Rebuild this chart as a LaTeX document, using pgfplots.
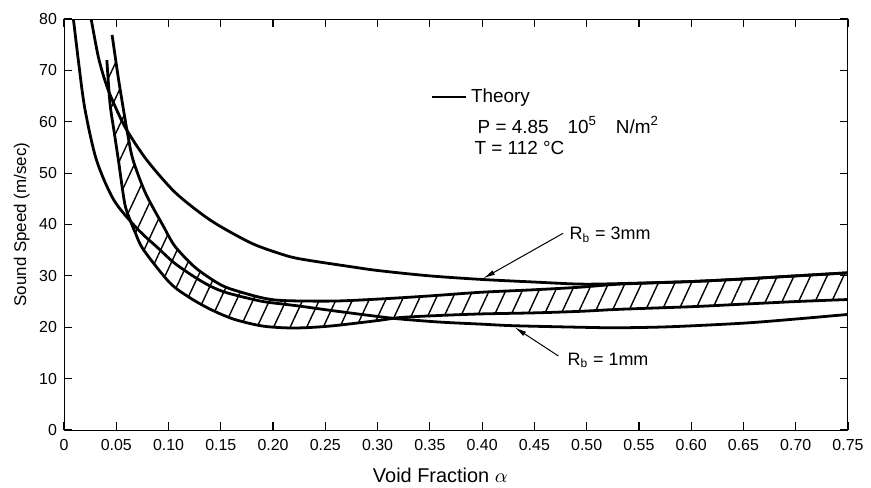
\documentclass[border=0pt]{standalone}
\usepackage{fontspec}
\setmainfont{Liberation Sans}
\usepackage{pgfplots}
\pgfplotsset{compat=1.18}
\usepgfplotslibrary{fillbetween}
\usetikzlibrary{patterns.meta,arrows.meta}

\begin{document}
\begin{tikzpicture}
\begin{axis}[
  at={(0,0)}, anchor=south west,
  scale only axis, width=392bp, height=205.5bp,
  xmin=0, xmax=0.75, ymin=0, ymax=80,
  xtick={0,0.05,0.10,0.15,0.20,0.25,0.30,0.35,0.40,0.45,0.50,0.55,0.60,0.65,0.70,0.75},
  xticklabels={0,0.05,0.10,0.15,0.20,0.25,0.30,0.35,0.40,0.45,0.50,0.55,0.60,0.65,0.70,0.75},
  ytick={0,10,20,30,40,50,60,70,80},
  tick align=inside,
  major tick length=4bp,
  axis line style={line width=0.5pt},
  every tick/.style={black, line width=0.6pt},
  ticklabel style={font=\fontsize{8}{9.6}\selectfont},
  xticklabel style={yshift=-1bp},
  /pgf/number format/assume math mode=true,
  xlabel={Void Fraction $\alpha$},
  ylabel={Sound Speed (m/sec)},
  xlabel style={at={(axis description cs:0.48,0)}, anchor=center, yshift=-22.5bp,
    inner sep=1bp, font=\fontsize{10}{12}\selectfont},
  ylabel style={at={(axis description cs:-0.054,0.5)}, anchor=center,
    font=\fontsize{8.5}{10}\selectfont},
  legend style={draw=none, fill=none, at={(axis cs:0.35,64.8)}, anchor=west,
    font=\fontsize{9.5}{11}\selectfont, inner sep=0pt},
  legend cell align=left,
]

% theorie R_b = 1 mm
\addplot[black, line width=1.4pt, smooth] coordinates {
  (0.009,80) (0.0137,72) (0.020,62.5) (0.031,52.6) (0.047,45.0) (0.065,40.3)
  (0.078,37.6) (0.089,35.6) (0.105,32.6) (0.124,29.9) (0.140,28.0) (0.156,26.7)
  (0.188,25.1) (0.210,24.5) (0.226,24.1) (0.258,23.2) (0.300,22.1) (0.322,21.6)
  (0.360,21.0) (0.400,20.6) (0.430,20.3) (0.494,20.0) (0.530,19.9) (0.580,20.1)
  (0.650,20.8) (0.700,21.6) (0.750,22.5)
};
\addlegendentry{Theory}

% theorie R_b = 3 mm
\addplot[black, line width=1.4pt, smooth, forget plot] coordinates {
  (0.026,80) (0.033,72.5) (0.041,66.9) (0.050,62.5) (0.060,58.4) (0.079,52.6)
  (0.105,46.5) (0.130,42.3) (0.149,39.7) (0.180,36.3) (0.207,34.3) (0.226,33.3)
  (0.274,31.8) (0.302,31.0) (0.350,30.0) (0.400,29.3) (0.450,28.8) (0.494,28.4)
  (0.532,28.5) (0.600,28.9) (0.650,29.4) (0.700,30.0) (0.750,30.6)
};

% experiment, bovengrens
\addplot[black, line width=1.4pt, smooth, name path=e1, forget plot] coordinates {
  (0.046,76.9) (0.052,68.5) (0.058,61.0) (0.061,57.5) (0.066,52.6) (0.078,46.1)
  (0.095,39.7) (0.106,35.8) (0.124,31.9) (0.140,29.5) (0.156,27.7) (0.188,25.8)
  (0.210,25.2) (0.258,25.1) (0.302,25.5) (0.350,26.1) (0.398,26.8) (0.450,27.3)
  (0.494,27.8) (0.532,28.4) (0.600,28.9) (0.650,29.4) (0.700,30.0) (0.750,30.6)
};

% experiment, ondergrens
\addplot[black, line width=1.4pt, smooth, name path=e2, forget plot] coordinates {
  (0.041,72.0) (0.044,63.6) (0.048,58.0) (0.052,52.6) (0.058,44.2) (0.063,41.0)
  (0.068,38.5) (0.076,35.1) (0.101,28.7) (0.120,25.8) (0.140,23.5) (0.162,21.6)
  (0.188,20.3) (0.210,19.9) (0.230,19.9) (0.258,20.3) (0.300,21.3) (0.322,21.9)
  (0.360,22.3) (0.400,22.6) (0.450,22.8) (0.494,23.1) (0.532,23.5) (0.600,24.0)
  (0.650,24.5) (0.700,25.0) (0.750,25.4)
};

\addplot[pattern={Lines[angle=65,distance=7.5bp,line width=0.7pt]}, draw=none, forget plot]
  fill between[of=e1 and e2];

\node[anchor=west, font=\fontsize{9.5}{11}\selectfont] at (axis cs:0.389,59.4)
  {P = 4.85\quad 10\textsuperscript{5}\quad N/m\textsuperscript{2}};
\node[anchor=west, font=\fontsize{9.5}{11}\selectfont] at (axis cs:0.386,54.9)
  {T = 112\ °C};

\node[anchor=west, font=\fontsize{9}{11}\selectfont] at (axis cs:0.477,38.0)
  {R\textsubscript{b} = 3mm};
\draw[-{Latex[length=6bp,width=2.5bp]}, line width=0.5pt]
  (axis cs:0.4775,38.3) -- (axis cs:0.401,29.5);

\node[anchor=west, font=\fontsize{9}{11}\selectfont] at (axis cs:0.475,13.6)
  {R\textsubscript{b} = 1mm};
\draw[-{Latex[length=6bp,width=2.5bp]}, line width=0.5pt]
  (axis cs:0.473,14.4) -- (axis cs:0.431,20.0);

\end{axis}
\pgfresetboundingbox
\path[use as bounding box] (-32bp,-29bp) rectangle (403.5bp,215bp);
\end{tikzpicture}
\end{document}
